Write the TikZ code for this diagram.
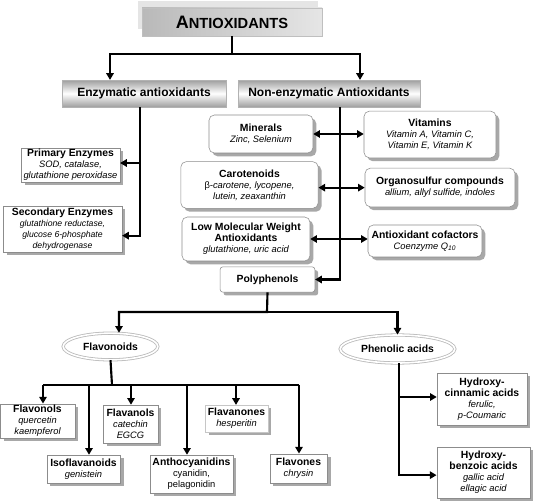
\documentclass[tikz,border=0pt]{standalone}
\usepackage{fontspec}
\setmainfont{Liberation Sans}
\usetikzlibrary{arrows.meta,shapes.geometric,shadows}
\definecolor{BoxLine}{HTML}{8C8C8C}
\definecolor{ShadowGray}{HTML}{A8A8A8}
\newcommand{\sample}[1]{{\fontsize{7}{8.25}\selectfont\mdseries\itshape #1}}
\newcommand{\tinysample}[1]{{\fontsize{6.5}{8}\selectfont\mdseries\itshape #1}}
\newcommand{\plainsample}[1]{{\fontsize{7}{8.25}\selectfont\mdseries #1}}

\tikzset{
  box/.style={draw=BoxLine, fill=white, align=center, inner sep=1pt,
    font=\fontsize{7.8}{8.3}\selectfont\bfseries,
    drop shadow={shadow xshift=2.5pt, shadow yshift=-2.5pt, fill=ShadowGray, opacity=1}},
  roundbox/.style={box, rounded corners=4pt},
  ovalbox/.style={ellipse, draw=gray!55, double=white, double distance=1.2pt,
    line width=0.6pt, inner sep=0pt, font=\fontsize{7.8}{8.3}\selectfont\bfseries},
  barbox/.style={draw=gray!60, top color=gray!75, bottom color=gray!75, middle color=white,
    inner sep=0pt, font=\fontsize{9}{10}\selectfont\bfseries},
  connect/.style={line width=1.6pt},
  arrowline/.style={connect, -{Triangle[length=5pt,width=5.5pt]}},
  biarrow/.style={connect, {Triangle[length=5pt,width=5.5pt]}-{Triangle[length=5pt,width=5.5pt]}},
}

\begin{document}
\begin{tikzpicture}[x=0.75pt, y=-0.75pt]
    \useasboundingbox[fill=white] (0,0) rectangle (533,502);

    % Top level
    \node[left color=gray!55, right color=gray!20, draw=gray!50, inner sep=0pt,
      minimum width=135pt, minimum height=21pt,
      general shadow={shadow xshift=-3pt, shadow yshift=5pt, fill=gray!20}]
      (anti) at (232,22) {\bfseries{\fontsize{13.5}{15}\selectfont A}{\fontsize{11}{13}\selectfont NTIOXIDANTS}};
    \node[barbox, minimum width=123pt, minimum height=20pt] (enz) at (144,93.5) {Enzymatic antioxidants};
    \node[barbox, minimum width=136.5pt, minimum height=20pt] (nonenz) at (329,93.5) {Non-enzymatic Antioxidants};
    \draw[arrowline] (anti.south) -- (232,54) -| (enz.north -| 110,0);
    \draw[arrowline] (232,54) -| (nonenz.north -| 360,0);

    % Enzymatic branch
    \node[box, minimum width=74pt, minimum height=25.5pt] (pri) at (70.5,165)
      {Primary Enzymes\\\sample{SOD, catalase,}\\\sample{glutathione peroxidase}};
    \node[box, minimum width=89pt, minimum height=34.5pt] (sec) at (62.5,229)
      {Secondary Enzymes\\\tinysample{glutathione reductase,}\\\tinysample{glucose 6-phosphate}\\\tinysample{dehydrogenase}};
    \draw[arrowline] (enz.south -| 140,0) |- ([yshift=1.5pt]pri.east);
    \draw[arrowline] (enz.south -| 140,0) |- ([yshift=-5pt]sec.east);

    % Non-enzymatic branch
    \node[roundbox, minimum width=78pt, minimum height=28.5pt] (min) at (261,134)
      {Minerals\\\sample{Zinc, Selenium}};
    \node[roundbox, minimum width=99pt, minimum height=35pt] (vit) at (430,134.5)
      {Vitamins\\\sample{Vitamin A, Vitamin C,}\\\sample{Vitamin E, Vitamin K}};
    \node[roundbox, minimum width=103pt, minimum height=35pt] (car) at (249.5,185)
      {Carotenoids\\\sample{{\upshape β}-carotene, lycopene,}\\\sample{lutein, zeaxanthin}};
    \node[roundbox, minimum width=112.5pt, minimum height=29pt] (org) at (440,187.5)
      {Organosulfur compounds\\\sample{allium, allyl sulfide, indoles}};
    \node[roundbox, minimum width=96pt, minimum height=33pt] (lmw) at (246,239)
      {Low Molecular Weight\\Antioxidants\\\sample{glutathione, uric acid}};
    \node[roundbox, minimum width=85.5pt, minimum height=24pt] (cof) at (425,241)
      {Antioxidant cofactors\\\sample{Coenzyme Q\textsubscript{10}}};
    \node[box, rounded corners=2pt, minimum width=71pt, minimum height=19pt] (poly) at (267.5,279.5)
      {Polyphenols};
    \draw[arrowline] (nonenz.south -| 340,0) |- (poly.east);
    \draw[biarrow] (min.east) -- (min.east -| vit.west);
    \draw[biarrow] ([yshift=-2pt]car.east) -- ([yshift=-2pt]car.east -| org.west);
    \draw[biarrow] (lmw.east) -- (lmw.east -| cof.west);

    % Polyphenols
    \node[ovalbox, minimum width=71pt, minimum height=20pt] (flav) at (110.5,346.5) {Flavonoids};
    \node[ovalbox, minimum width=86pt, minimum height=21pt] (phen) at (397.5,349) {Phenolic acids};
    \draw[arrowline] (poly.south) -- (267,312) -| (flav.north -| 119,0);
    \draw[arrowline] (267,312) -| (phen.north);

    % Flavonoids
    \node[box, minimum width=56pt, minimum height=25.5pt] (flvl) at (37.5,421)
      {Flavonols\\\sample{quercetin}\\\sample{kaempferol}};
    \node[box, minimum width=55pt, minimum height=21pt] (iso) at (83.5,469)
      {Isoflavanoids\\\sample{genistein}};
    \node[box, minimum width=41pt, minimum height=28.5pt] (fnol) at (130.5,424)
      {Flavanols\\\sample{catechin}\\\sample{EGCG}};
    \node[box, minimum width=62pt, minimum height=28.5pt] (anth) at (191.5,474)
      {Anthocyanidins\\\plainsample{cyanidin,}\\\plainsample{pelagonidin}};
    \node[box, draw=gray!45, minimum width=47pt, minimum height=20pt] (fnon) at (236.5,418.5)
      {Flavanones\\\sample{hesperitin}};
    \node[box, minimum width=43pt, minimum height=22pt] (fone) at (298.5,468.5)
      {Flavones\\\sample{chrysin}};
    \draw[connect] (flav.south) -- (112,385);
    \draw[connect] (43,385) -- (299,385);
    \foreach \n/\x in {flvl/43, iso/89, fnol/131, anth/187, fnon/236, fone/299}
      \draw[arrowline] (\x,385) -- (\n.north -| \x,0);

    % Phenolic acids
    \node[box, minimum width=67.5pt, minimum height=39pt] (hc) at (482,399)
      {Hydroxy-\\cinnamic acids\\\sample{ferulic,}\\\sample{p-Coumaric}};
    \node[box, minimum width=70pt, minimum height=38pt] (hb) at (483.5,472.5)
      {Hydroxy-\\benzoic acids\\\sample{gallic acid}\\\sample{ellagic acid}};
    \draw[arrowline] (phen.south -| 399,0) |- ([yshift=-2pt]hb.west);
    \draw[arrowline] ([yshift=1.5pt]hc.west -| 399,0) -- ([yshift=1.5pt]hc.west);
\end{tikzpicture}
\end{document}
